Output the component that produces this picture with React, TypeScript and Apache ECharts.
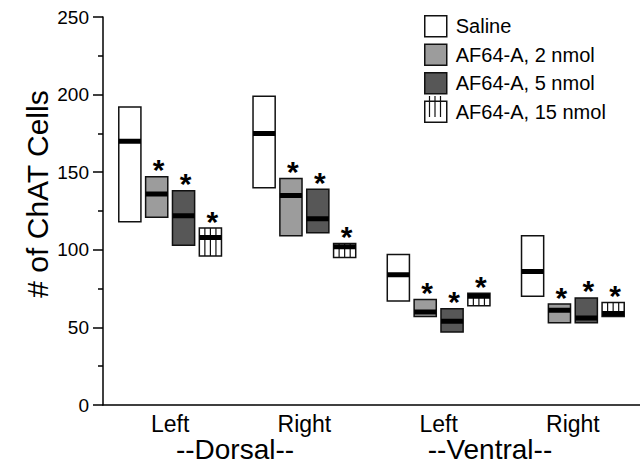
import React, { useEffect, useRef } from "react";
import * as echarts from "echarts";

const categories = ["Left", "Right", "Left", "Right"];
const seriesNames = ["Saline", "AF64-A, 2 nmol", "AF64-A, 5 nmol", "AF64-A, 15 nmol"];

// [low, high, median] per category
const salineLow = [118, 140, 67, 70];
const salineHigh = [192, 199, 97, 109];
const salineMed = [170, 175, 84, 86];

const af2Low = [121, 109, 57, 53];
const af2High = [147, 146, 68, 65];
const af2Med = [136, 135, 60, 61];

const af5Low = [103, 111, 47, 53];
const af5High = [138, 139, 62, 69];
const af5Med = [122, 120, 54, 56];

const af15Low = [96, 95, 64, 57];
const af15High = [114, 104, 72, 66];
const af15Med = [108, 102, 70, 59];

const yTicks = [0, 50, 100, 150, 200, 250];
const groupLabels = ["--Dorsal--", "--Ventral--"];

const FONT = "Liberation Sans, Arial, Helvetica, sans-serif";
const BOX_W = 0.165;
const OFFSETS = [-0.3, -0.1, 0.1, 0.3];
const FILLS = ["#ffffff", "#9c9c9c", "#575757", "#ffffff"];

function build(low: number[], high: number[], med: number[]) {
  return categories.map((_, i) => [i, low[i], high[i], med[i]]);
}

const seriesData = [
  build(salineLow, salineHigh, salineMed),
  build(af2Low, af2High, af2Med),
  build(af5Low, af5High, af5Med),
  build(af15Low, af15High, af15Med),
];

function makeRender(offset: number, fill: string, striped: boolean, star: boolean) {
  return (params: any, api: any) => {
    const cat = api.value(0) as number;
    const lo = api.value(1) as number;
    const hi = api.value(2) as number;
    const md = api.value(3) as number;
    const band = api.size([1, 0])[0];
    const cx = api.coord([cat, 0])[0] + offset * band;
    const w = BOX_W * band;
    const x0 = cx - w / 2;
    const yTop = api.coord([cat, hi])[1];
    const yBot = api.coord([cat, lo])[1];
    const yMed = api.coord([cat, md])[1];
    const children: any[] = [];
    children.push({
      type: "rect",
      shape: { x: x0, y: yTop, width: w, height: yBot - yTop },
      style: { fill, stroke: "#111", lineWidth: 1.5 },
    });
    if (striped) {
      for (let k = 1; k < 4; k++) {
        const lx = x0 + (k * w) / 4;
        children.push({
          type: "line",
          shape: { x1: lx, y1: yTop, x2: lx, y2: yBot },
          style: { stroke: "#111", lineWidth: 1.2 },
        });
      }
    }
    const mh = 5;
    const my = Math.min(Math.max(yMed - mh / 2, yTop), yBot - mh);
    children.push({
      type: "rect",
      shape: { x: x0, y: my, width: w, height: mh },
      style: { fill: "#000" },
    });
    if (star) {
      children.push({
        type: "text",
        x: cx + 2,
        y: yTop - 14 + 7,
        style: {
          text: "*",
          font: `bold 30px ${FONT}`,
          fill: "#000",
          align: "center",
          verticalAlign: "middle",
        },
      });
    }
    return { type: "group", children };
  };
}

export default function App() {
  const ref = useRef<HTMLDivElement>(null);
  useEffect(() => {
    if (!ref.current) return;
    const chart = echarts.init(ref.current, undefined, { renderer: "svg" });
    const legendLeft = 424;
    const legendTop = 15;
    const itemH = 21;
    const itemGap = 6;
    const stripeTop = legendTop + 3 * (itemH + itemGap);
    const legendStripes = [1, 2, 3].map((k) => ({
      type: "line",
      shape: {
        x1: legendLeft + (k * 22) / 4,
        y1: stripeTop,
        x2: legendLeft + (k * 22) / 4,
        y2: stripeTop + itemH,
      },
      style: { stroke: "#111", lineWidth: 1.2 },
      z: 100,
    }));
    chart.setOption({
      animation: false,
      backgroundColor: "#ffffff",
      textStyle: { fontFamily: FONT },
      grid: { left: 103, right: -4, top: 17, bottom: 62 },
      legend: {
        orient: "vertical",
        left: legendLeft,
        top: legendTop,
        padding: 0,
        icon: "rect",
        itemWidth: 22,
        itemHeight: itemH,
        itemGap,
        textStyle: {
          fontSize: 20,
          lineHeight: itemH,
          color: "#000",
          fontFamily: FONT,
          padding: [0, 0, 0, 4],
        },
        data: seriesNames.map((n, i) => ({
          name: n,
          itemStyle: { color: FILLS[i], borderColor: "#111", borderWidth: 1.5 },
        })),
      },
      xAxis: {
        type: "category",
        data: categories,
        axisTick: { show: false },
        axisLine: { lineStyle: { color: "#000", width: 1.5 } },
        axisLabel: { fontSize: 23, lineHeight: 23, color: "#000", margin: 7, fontFamily: FONT },
      },
      yAxis: {
        type: "value",
        min: yTicks[0],
        max: yTicks[yTicks.length - 1],
        interval: 50,
        axisLine: { show: true, lineStyle: { color: "#000", width: 1.5 } },
        axisTick: { show: true, length: 10, lineStyle: { color: "#000", width: 1.5 } },
        minorTick: { show: true, splitNumber: 2, length: 5, lineStyle: { color: "#000", width: 1.5 } },
        splitLine: { show: false },
        axisLabel: { fontSize: 19, color: "#000", margin: 14, fontFamily: FONT },
      },
      graphic: [
        {
          type: "text",
          x: 37,
          y: 194,
          rotation: Math.PI / 2,
          style: {
            text: "# of ChAT Cells",
            font: `30px ${FONT}`,
            fill: "#000",
            align: "center",
            verticalAlign: "middle",
          },
        },
        {
          type: "text",
          x: 235,
          y: 449,
          style: {
            text: groupLabels[0],
            font: `28px ${FONT}`,
            lineHeight: 26,
            fill: "#000",
            align: "center",
            verticalAlign: "middle",
          },
        },
        {
          type: "text",
          x: 490,
          y: 449,
          style: {
            text: groupLabels[1],
            font: `28px ${FONT}`,
            lineHeight: 26,
            fill: "#000",
            align: "center",
            verticalAlign: "middle",
          },
        },
        ...legendStripes,
      ],
      series: seriesNames.map((name, i) => ({
        type: "custom",
        name,
        itemStyle: { color: FILLS[i], borderColor: "#111", borderWidth: 1.5 },
        encode: { x: 0, y: [1, 2, 3] },
        renderItem: makeRender(OFFSETS[i], FILLS[i], i === 3, i > 0),
        data: seriesData[i],
        clip: false,
      })),
    });
    return () => chart.dispose();
  }, []);
  return (
    <div
      ref={ref}
      style={{ position: "fixed", left: 0, top: 0, width: 640, height: 467 }}
    />
  );
}
